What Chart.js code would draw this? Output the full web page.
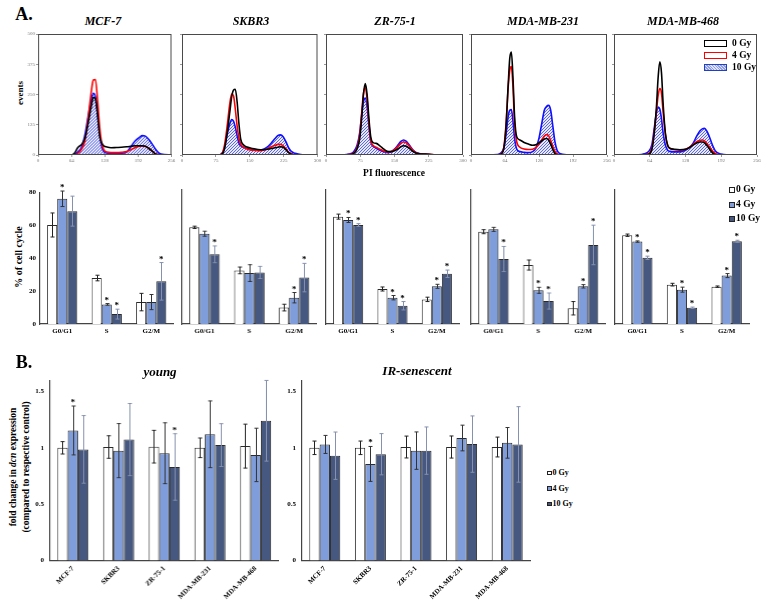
<!DOCTYPE html>
<html><head><meta charset="utf-8">
<script src="https://cdn.jsdelivr.net/npm/chart.js@4.4.1/dist/chart.umd.min.js"></script>
<style>
body{margin:0;background:#fff;width:772px;height:609px;position:relative;overflow:hidden;font-family:"Liberation Serif","Times New Roman",serif;}
.c{position:absolute;}
.t{position:absolute;font-weight:bold;white-space:nowrap;color:#000;line-height:1;}
.lg{position:absolute;font-weight:bold;white-space:nowrap;color:#000;line-height:1;display:flex;align-items:center;}
.lg span.b{display:inline-block;box-sizing:border-box;margin-right:3px;}
</style></head><body>
<script>
// ---------- DATA ----------
const cellLines = ['MCF-7','SKBR3','ZR-75-1','MDA-MB-231','MDA-MB-468'];
const doses = ['0 Gy','4 Gy','10 Gy'];
const phases = ['G0/G1','S','G2/M'];

// Flow cytometry histograms (PI channel vs events)
const mcf7Ch   = [0,64,70,76,84,90,96,102,106,110,114,118,122,126,132,140,150,160,170,178,186,194,200,206,212,218,224,230,236,256];
const mcf7Gy0  = [0,0,8,30,45,70,130,200,238,232,170,80,50,38,33,30,31,32,34,36,38,38,38,36,28,18,6,1,0,0];
const mcf7Gy4  = [0,0,0,6,25,60,150,260,310,312,230,120,50,22,12,10,10,11,14,22,30,36,37,35,28,18,7,2,0,0];
const mcf7Gy10 = [0,0,2,12,35,85,160,230,255,240,170,90,35,14,8,7,7,7,12,35,58,72,80,78,65,48,28,12,4,0];

const skbr3Ch   = [0,80,88,94,100,106,110,114,118,122,126,130,136,144,156,168,180,190,198,206,212,218,224,230,236,242,250,260,270,300];
const skbr3Gy0  = [0,0,3,25,90,180,240,268,272,220,130,65,42,33,27,23,22,24,27,30,32,34,32,22,10,3,0,0,0,0];
const skbr3Gy4  = [0,0,5,40,120,215,252,245,190,120,70,45,33,25,20,18,20,26,34,40,44,44,38,26,12,4,1,0,0,0];
const skbr3Gy10 = [0,0,5,30,85,130,147,140,115,80,50,38,32,27,22,20,24,35,50,68,80,83,75,55,30,15,7,3,0,0];

const zr751Ch   = [0,40,50,60,68,74,78,82,86,90,94,98,104,110,118,126,134,142,150,158,164,170,176,182,190,198,210,225,240,300];
const zr751Gy0  = [0,0,1,5,25,70,150,250,295,250,150,75,50,48,38,25,15,14,18,26,34,38,36,28,15,7,4,3,0,0];
const zr751Gy4  = [0,0,2,8,30,85,170,255,280,230,130,60,38,32,24,17,13,14,22,36,48,54,50,38,20,8,4,3,0,0];
const zr751Gy10 = [0,1,4,12,40,95,165,220,235,200,120,55,35,28,20,13,10,12,24,42,56,62,56,42,22,9,4,2,0,0];

const mda231Ch   = [0,50,56,62,66,70,73,76,79,82,86,92,100,108,116,122,128,134,138,142,146,150,154,158,162,166,172,180,256];
const mda231Gy0  = [0,0,3,30,120,290,400,425,320,160,75,62,52,45,40,42,50,60,66,68,62,45,22,6,1,0,0,0,0];
const mda231Gy4  = [0,0,4,35,130,280,350,365,280,130,55,32,25,23,24,30,45,65,78,84,80,60,35,15,5,1,0,0,0];
const mda231Gy10 = [0,2,8,30,85,160,185,188,140,70,25,14,11,10,14,28,70,140,185,200,205,185,120,55,20,8,3,1,0];

const mda468Ch   = [0,44,54,62,68,72,76,79,82,85,88,92,96,100,108,118,128,136,142,148,154,158,162,166,170,174,178,182,188,196,206,256];
const mda468Gy0  = [0,0,1,3,25,90,200,320,385,340,210,90,40,28,24,22,24,32,42,50,54,54,50,40,28,15,6,1,0,0,0,0];
const mda468Gy4  = [0,0,1,5,30,95,180,245,275,255,175,85,40,27,22,20,24,33,45,55,60,62,58,48,36,24,12,5,1,0,0,0];
const mda468Gy10 = [0,1,5,15,45,110,175,198,190,150,90,40,20,15,13,13,20,32,50,78,100,108,110,100,80,55,32,15,6,2,0,0];

const histMaxCh = [256,300,300,256,256];
const histStep  = [64,75,75,64,64];
const eventTicks = [0,125,250,375,500];

// Cell cycle % (rows: 0 Gy, 4 Gy, 10 Gy; cols: G0/G1, S, G2/M)
const mcf7Cycle    = [[60.1,27.9,13.3],[76.0,11.9,13.3],[68.5,6.0,25.9]];
const mcf7CycleErr = [[7.3,1.7,5.3],[4.7,0.5,4.6],[9.1,3.0,11.4]];
const mcf7Star     = [[0,0,0],[1,1,0],[0,1,1]];
const skbr3Cycle    = [[57.7,32.0,9.8],[53.9,30.4,15.7],[41.6,30.8,27.7]];
const skbr3CycleErr = [[0.7,2.0,2.0],[1.5,5.0,3.1],[5.0,3.6,8.5]];
const skbr3Star     = [[0,0,0],[0,0,1],[1,0,1]];
const zr751Cycle    = [[64.1,20.9,14.7],[62.1,15.7,22.5],[59.1,10.9,30.0]];
const zr751CycleErr = [[1.5,1.2,1.3],[1.5,1.3,1.2],[0.8,2.5,2.2]];
const zr751Star     = [[0,0,0],[1,1,1],[1,1,1]];
const mda231Cycle    = [[55.1,35.2,9.4],[56.5,20.1,22.5],[38.8,13.7,47.2]];
const mda231CycleErr = [[1.2,3.0,4.0],[1.2,1.8,1.0],[7.5,4.8,11.8]];
const mda231Star     = [[0,0,0],[0,1,1],[1,1,1]];
const mda468Cycle    = [[53.0,23.5,22.3],[49.2,20.5,28.9],[39.5,9.7,49.4]];
const mda468CycleErr = [[0.7,0.8,0.4],[0.4,1.5,1.2],[1.0,0.4,0.6]];
const mda468Star     = [[0,0,0],[1,1,1],[1,1,1]];

// dcn fold change (rows: 0 Gy, 4 Gy, 10 Gy; cols: cell lines)
const youngFold    = [[1.00,1.007,1.01,1.00,1.015],[1.154,0.975,0.952,1.12,0.937],[0.986,1.073,0.83,1.024,1.24]];
const youngErr     = [[0.055,0.10,0.145,0.087,0.195],[0.217,0.24,0.27,0.296,0.237],[0.30,0.32,0.295,0.19,0.358]];
const youngStar    = [[0,0,0,0,0],[1,0,0,0,0],[0,0,1,0,0]];
const senFold      = [[1.00,1.00,1.007,1.007,1.007],[1.03,0.857,0.975,1.087,1.044],[0.93,0.943,0.975,1.033,1.03]];
const senErr       = [[0.06,0.06,0.097,0.098,0.088],[0.08,0.155,0.166,0.114,0.136],[0.21,0.183,0.21,0.25,0.335]];
const senStar      = [[0,0,0,0,0],[0,1,0,0,0],[0,0,0,0,0]];
const foldTicks = [0,0.5,1,1.5];

// ---------- STYLE ----------
const FF = '"Liberation Serif","Times New Roman",serif';
const barFill = ['#ffffff','#7f9ddb','#46587f'];
const errCol = ['#222','#333','#8591ae'];
const lineCol = ['#000000','#ff0000','#1010ff'];

function hatchPattern(){
  const c=document.createElement('canvas'); c.width=3; c.height=3;
  const g=c.getContext('2d');
  g.fillStyle='rgba(215,220,250,0.6)'; g.fillRect(0,0,3,3);
  g.strokeStyle='rgba(70,80,225,0.85)'; g.lineWidth=1;
  g.beginPath(); g.moveTo(0,3); g.lineTo(3,0); g.moveTo(-1,1); g.lineTo(1,-1); g.moveTo(2,4); g.lineTo(4,2); g.stroke();
  return g.createPattern(c,'repeat');
}

function place(area, m){
  const d=document.createElement('div'); d.className='c';
  d.style.left=(area.l-m.l)+'px'; d.style.top=(area.t-m.t)+'px';
  d.style.width=(area.r-area.l+m.l+m.r)+'px'; d.style.height=(area.b-area.t+m.t+m.b)+'px';
  const cv=document.createElement('canvas'); d.appendChild(cv); document.body.appendChild(d);
  return cv;
}
function txt(html, cx, cy, size, extra){
  const e=document.createElement('div'); e.className='t'; e.innerHTML=html;
  e.style.left=cx+'px'; e.style.top=cy+'px'; e.style.fontSize=size+'px';
  let tr='translate(-50%,-50%)';
  if(extra && extra.rot) tr+=' rotate('+extra.rot+'deg)';
  e.style.transform=tr;
  if(extra && extra.italic) e.style.fontStyle='italic';
  document.body.appendChild(e); return e;
}

const boxPlugin={id:'box',afterDraw(ch){const a=ch.chartArea,c=ch.ctx;c.save();c.strokeStyle='#4a4a4a';c.lineWidth=1;c.strokeRect(a.left+0.5,a.top+0.5,a.right-a.left-1,a.bottom-a.top-1);c.restore();}};
const errPlugin={id:'err',afterDatasetsDraw(ch){
  const c=ch.ctx,ys=ch.scales.y;
  ch.data.datasets.forEach((ds,i)=>{
    if(!ds.err) return;
    const meta=ch.getDatasetMeta(i);
    meta.data.forEach((bar,j)=>{
      const v=ds.data[j],e=ds.err[j];
      const yt=ys.getPixelForValue(v+e),yb=ys.getPixelForValue(v-e);
      const x=Math.round(bar.x)+0.5;
      c.save();c.strokeStyle=ds.errColor;c.lineWidth=1;c.beginPath();
      c.moveTo(x,yt);c.lineTo(x,yb);c.moveTo(x-2,yt);c.lineTo(x+2,yt);c.moveTo(x-2,yb);c.lineTo(x+2,yb);c.stroke();
      if(ds.star&&ds.star[j]){c.fillStyle='#000';c.font='bold 9px '+FF;c.textAlign='center';c.textBaseline='alphabetic';c.fillText('*',bar.x,yt-1);}
      c.restore();
    });
  });
}};

// ---------- HISTOGRAMS ----------
const histCh=[mcf7Ch,skbr3Ch,zr751Ch,mda231Ch,mda468Ch];
const histY=[[mcf7Gy0,mcf7Gy4,mcf7Gy10],[skbr3Gy0,skbr3Gy4,skbr3Gy10],[zr751Gy0,zr751Gy4,zr751Gy10],[mda231Gy0,mda231Gy4,mda231Gy10],[mda468Gy0,mda468Gy4,mda468Gy10]];
const histAreas=[{l:38,r:170.5},{l:181.5,r:317},{l:326,r:463},{l:471,r:607},{l:614,r:757}];
const histTitleX=[103,251,395,543,683];
const pat=hatchPattern();
histAreas.forEach((ar,k)=>{
  const area={l:ar.l,r:ar.r,t:34,b:155}, m={l:12,t:4,r:7,b:10};
  const cv=place(area,m);
  const ds=histY[k].map((arr,d)=>({
    label:doses[d],
    data:histCh[k].map((x,i)=>({x:x,y:arr[i]})),
    borderColor:lineCol[d],borderWidth:1.6,pointRadius:0,
    cubicInterpolationMode:'monotone',
    fill:d===2?'origin':false,
    backgroundColor:d===2?pat:'transparent'
  }));
  new Chart(cv,{type:'line',data:{datasets:ds},plugins:[boxPlugin],
    options:{responsive:true,maintainAspectRatio:false,animation:false,
      layout:{padding:{left:0,top:m.t,right:m.r,bottom:0}},
      plugins:{legend:{display:false},tooltip:{enabled:false}},
      scales:{
        x:{type:'linear',min:0,max:histMaxCh[k],afterFit:s=>{s.height=m.b;},
          ticks:{stepSize:histStep[k],font:{size:5,family:FF},color:'#777',padding:1,maxRotation:0},
          grid:{display:true,drawOnChartArea:false,tickLength:2,color:'#999'},border:{display:false}},
        y:{type:'linear',min:0,max:500,afterFit:s=>{s.width=m.l;},
          afterBuildTicks:s=>{s.ticks=eventTicks.map(v=>({value:v}));},
          ticks:{display:k===0,font:{size:5,family:FF},color:'#777',padding:1},
          grid:{display:true,drawOnChartArea:false,tickLength:2,color:'#999'},border:{display:false}}
      }}});
  txt(cellLines[k],histTitleX[k],21,12,{italic:true});
});
txt('events',20,93,9,{rot:-90});
txt('PI fluorescence',394,174,9.5);
txt('A.',24,14,18);

// histogram legend
(function(){
  const rows=[{y:43.5,b:'1.5px solid #000',bg:'#fff'},{y:55.5,b:'1.5px solid #f00',bg:'#fff'},{y:67.5,b:'1.5px solid #2040c0',bg:'repeating-linear-gradient(45deg,#8e9de6 0 1px,#dfe4fa 1px 2px)'}];
  rows.forEach((r,i)=>{
    const e=document.createElement('div');e.className='lg';
    e.style.left='704px';e.style.top=(r.y-5)+'px';e.style.fontSize='9.5px';e.style.height='10px';
    e.innerHTML='<span class="b" style="width:23px;height:7px;border:'+r.b+';background:'+r.bg+';margin-right:5px"></span>'+doses[i];
    document.body.appendChild(e);
  });
})();

// ---------- CELL CYCLE BARS ----------
const cycles=[mcf7Cycle,skbr3Cycle,zr751Cycle,mda231Cycle,mda468Cycle];
const cycleErrs=[mcf7CycleErr,skbr3CycleErr,zr751CycleErr,mda231CycleErr,mda468CycleErr];
const cycleStars=[mcf7Star,skbr3Star,zr751Star,mda231Star,mda468Star];
const barAreas=[{l:39.5,r:173},{l:182,r:315.5},{l:326,r:459},{l:471,r:604.5},{l:615,r:749}];
function barChart(area,m,labels,means,errs,stars,yOpt,xOpt){
  const cv=place(area,m);
  const ds=means.map((arr,d)=>({label:doses[d],data:arr,err:errs[d],star:stars[d],errColor:errCol[d],
    backgroundColor:barFill[d],borderColor:'#2a2a2a',borderWidth:1,categoryPercentage:0.68,barPercentage:1.0}));
  new Chart(cv,{type:'bar',data:{labels:labels,datasets:ds},plugins:[errPlugin],
    options:{responsive:true,maintainAspectRatio:false,animation:false,
      layout:{padding:{left:0,top:m.t,right:m.r,bottom:0}},
      plugins:{legend:{display:false},tooltip:{enabled:false}},
      scales:{
        x:Object.assign({afterFit:s=>{s.height=m.b;},grid:{display:false,drawTicks:false},border:{display:true,color:'#444',width:1.2}},xOpt),
        y:Object.assign({afterFit:s=>{s.width=m.l;},grid:{display:false,drawTicks:false},border:{display:true,color:'#444',width:1.2}},yOpt)
      }}});
}
barAreas.forEach((ar,k)=>{
  barChart({l:ar.l,r:ar.r,t:190,b:324},{l:14,t:6,r:4,b:14},phases,cycles[k],cycleErrs[k],cycleStars[k],
    {min:0,max:80,ticks:{display:k===0,stepSize:20,font:{size:7,weight:'bold',family:FF},color:'#000',padding:4}},
    {ticks:{font:{size:7,weight:'bold',family:FF},color:'#000',padding:3,maxRotation:0}});
});
txt('% of cell cycle',19,257,10,{rot:-90});
function barLegend(x,ys,size,box){
  ys.forEach((y,i)=>{
    const e=document.createElement('div');e.className='lg';
    e.style.left=x+'px';e.style.top=(y-size/2)+'px';e.style.fontSize=size+'px';e.style.height=size+'px';
    e.innerHTML='<span class="b" style="width:'+box+'px;height:'+box+'px;border:1px solid #222;background:'+barFill[i]+';margin-right:1px"></span>'+doses[i];
    document.body.appendChild(e);
  });
}
barLegend(729,[190,204.5,219],9.5,6);

// ---------- PANEL B ----------
const bOpts=()=>({min:0,max:1.6,afterBuildTicks:s=>{s.ticks=foldTicks.map(v=>({value:v}));},
  ticks:{display:true,font:{size:7,weight:'bold',family:FF},color:'#000',padding:6,callback:v=>String(v)}});
const bx={ticks:{font:{size:7,weight:'bold',family:FF},color:'#000',padding:4,minRotation:45,maxRotation:45}};
barChart({l:50,r:277.5,t:375.5,b:560},{l:16,t:6,r:4,b:48},cellLines,youngFold,youngErr,youngStar,bOpts(),bx);
barChart({l:302,r:530,t:375.5,b:560},{l:16,t:6,r:4,b:48},cellLines,senFold,senErr,senStar,bOpts(),bx);
txt('young',160,371,13,{italic:true});
txt('IR-senescent',417,370,13,{italic:true});
txt('B.',24,362,18);
txt('fold change in <i>dcn</i> expression',13.5,467,9.5,{rot:-90});
txt('(compared to respective control)',26.5,467,9.5,{rot:-90});
barLegend(547,[473,488.5,504],8,4.5);
</script>
</body></html>
